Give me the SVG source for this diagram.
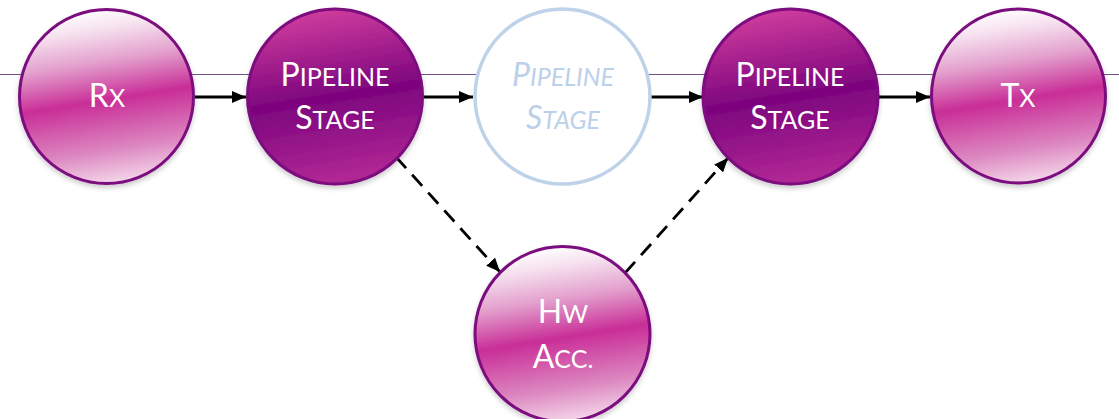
<svg xmlns="http://www.w3.org/2000/svg" width="1119" height="419" viewBox="0 0 1119 419">
<style>
.light{fill:url(#gLight);stroke:#7b0a7e;stroke-width:3;filter:url(#sh)}
.dark{fill:url(#gDark);stroke:#7b0a7e;stroke-width:3;filter:url(#sh)}
.ghost{fill:#ffffff;stroke:#bed2ea;stroke-width:3.5}
.t{font-family:Lato,"Liberation Sans",sans-serif;fill:#ffffff;text-anchor:middle}
.tg{font-family:Lato,"Liberation Sans",sans-serif;fill:#bcd0ea;text-anchor:middle;font-style:italic}
.b{font-size:32px}
.s{font-size:25px}
.arr{stroke:#000;stroke-width:2.8;fill:none;marker-end:url(#ah)}
.dash{stroke-dasharray:15 9}
</style>
<defs>
<linearGradient id="gLight" x1="0.42" y1="0" x2="0.58" y2="1">
<stop offset="0" stop-color="#ffffff"/>
<stop offset="0.12" stop-color="#f6e0ee"/>
<stop offset="0.3" stop-color="#e3a0cd"/>
<stop offset="0.52" stop-color="#c92e97"/>
<stop offset="0.8" stop-color="#dc86c0"/>
<stop offset="1" stop-color="#f5d9ea"/>
</linearGradient>
<linearGradient id="gDark" x1="0.42" y1="0" x2="0.58" y2="1">
<stop offset="0" stop-color="#cf3d9d"/>
<stop offset="0.5" stop-color="#7c047e"/>
<stop offset="1" stop-color="#b42a96"/>
</linearGradient>
<filter id="sh" x="-20%" y="-20%" width="140%" height="140%">
<feDropShadow dx="0" dy="3" stdDeviation="2.5" flood-color="#000" flood-opacity="0.2"/>
</filter>
<marker id="ah" viewBox="0 0 14 12" refX="14" refY="6" markerWidth="14" markerHeight="12" markerUnits="userSpaceOnUse" orient="auto">
<path d="M0,0 L14,6 L0,12 z" fill="#000"/>
</marker>
</defs>
<line x1="0" y1="74.5" x2="1119" y2="74.5" stroke="#74508a" stroke-width="1"/>
<g id="connectors">
<line class="arr" x1="195" y1="97" x2="246" y2="97"/>
<line class="arr" x1="424" y1="97" x2="473" y2="97"/>
<line class="arr" x1="650" y1="97" x2="703" y2="97"/>
<line class="arr" x1="879" y1="97" x2="930" y2="97"/>
<line class="arr dash" x1="396" y1="157" x2="500" y2="272"/>
<line class="arr dash" x1="625" y1="273" x2="728" y2="158"/>
</g>
<g id="rx">
<circle class="light" cx="106.5" cy="96.5" r="87"/>
<text class="t" x="107" y="107"><tspan class="b">R</tspan><tspan class="s">X</tspan></text>
</g>
<g id="stage1">
<circle class="dark" cx="335" cy="96.5" r="87.5"/>
<text class="t" x="335" y="86"><tspan class="b">P</tspan><tspan class="s">IPELINE</tspan></text>
<text class="t" x="335" y="129"><tspan class="b">S</tspan><tspan class="s">TAGE</tspan></text>
</g>
<g id="stage2">
<circle class="ghost" cx="562.5" cy="96.5" r="87.5"/>
<text class="tg" x="563" y="86"><tspan class="b">P</tspan><tspan class="s">IPELINE</tspan></text>
<text class="tg" x="563" y="129"><tspan class="b">S</tspan><tspan class="s">TAGE</tspan></text>
</g>
<g id="stage3">
<circle class="dark" cx="790.5" cy="96.5" r="87.5"/>
<text class="t" x="790" y="86"><tspan class="b">P</tspan><tspan class="s">IPELINE</tspan></text>
<text class="t" x="790" y="129"><tspan class="b">S</tspan><tspan class="s">TAGE</tspan></text>
</g>
<g id="tx">
<circle class="light" cx="1018.5" cy="96" r="87"/>
<text class="t" x="1018" y="107"><tspan class="b">T</tspan><tspan class="s">X</tspan></text>
</g>
<g id="hwacc">
<circle class="light" cx="562.5" cy="334" r="87.5"/>
<text class="t" x="563" y="323"><tspan class="b">H</tspan><tspan class="s">W</tspan></text>
<text class="t" x="563" y="368"><tspan class="b">A</tspan><tspan class="s">CC.</tspan></text>
</g>
</svg>
